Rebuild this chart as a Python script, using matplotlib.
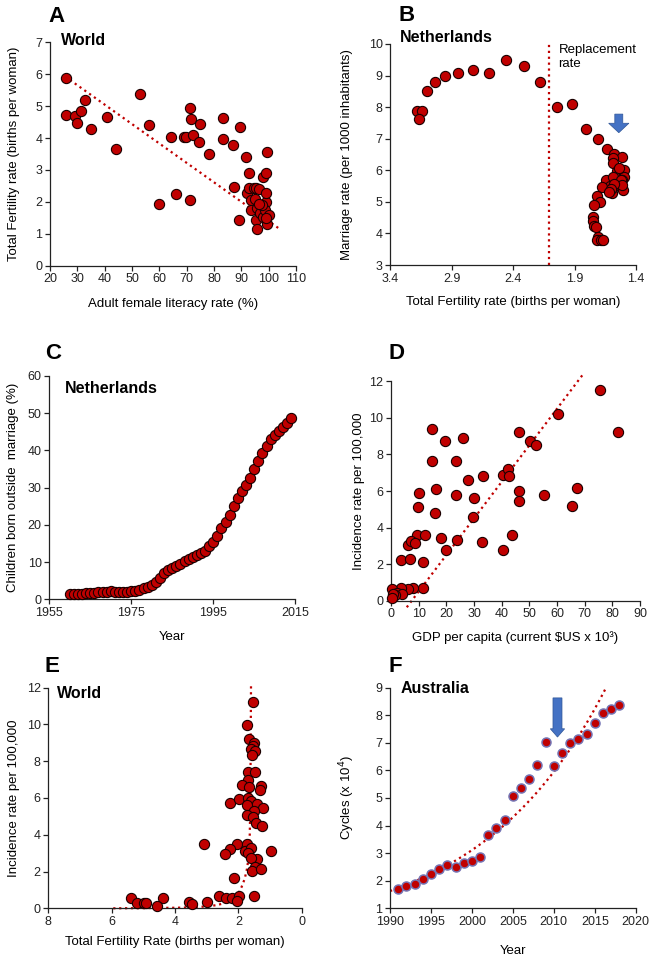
import numpy as np
import matplotlib
matplotlib.use("Agg")
import matplotlib.pyplot as plt
from matplotlib.patches import FancyArrow

plt.rcParams['font.family'] = ['Liberation Sans', 'DejaVu Sans']

RED = '#C00000'
BLUE = '#4472C4'

# A: world, literacy vs fertility
lit_a = [25.9, 25.9, 29.1, 30.0, 31.2, 32.8, 34.9, 40.7, 44.1, 52.9, 56.2, 59.9, 64.4, 66.0,
         68.9, 69.8, 71.1, 71.5, 71.3, 72.4, 74.6, 74.9, 78.3, 83.3, 83.4, 86.8, 87.3, 89.5,
         89.3, 91.7, 92.7, 92.0, 92.9, 93.7, 93.4, 94.6, 95.4, 95.1, 95.6, 95.4, 95.9, 96.3,
         96.8, 98.0, 98.0, 98.9, 98.9, 99.1, 98.8, 99.3, 99.5, 100.0, 98.9, 97.4, 96.6]
tfr_a = [5.88, 4.72, 4.70, 4.47, 4.85, 5.19, 4.27, 4.65, 3.67, 5.38, 4.41, 1.94, 4.02, 2.24,
         4.04, 4.04, 4.95, 4.59, 2.05, 4.10, 3.88, 4.44, 3.50, 4.64, 3.98, 3.79, 2.48, 4.34,
         1.43, 3.41, 2.90, 2.27, 2.42, 2.06, 1.75, 2.44, 2.42, 2.09, 1.80, 1.43, 1.15, 2.40,
         1.64, 1.54, 2.79, 2.92, 2.01, 2.28, 1.75, 1.32, 3.57, 1.59, 1.48, 1.90, 1.93]
trend_a_x = [27.3, 104.2]
trend_a_y = [5.82, 1.14]

# B: Netherlands, fertility vs marriage rate
tfr_b = [3.18, 3.14, 3.17, 3.10, 3.04, 2.955, 2.85, 2.73, 2.60, 2.46, 2.31, 2.18, 2.04, 1.92,
         1.807, 1.712, 1.638, 1.576, 1.516, 1.585, 1.585, 1.50, 1.557, 1.57, 1.495, 1.516,
         1.644, 1.59, 1.525, 1.508, 1.612, 1.674, 1.596, 1.585, 1.72, 1.693, 1.742, 1.753,
         1.747, 1.742, 1.726, 1.709, 1.715, 1.688, 1.666, 1.54, 1.525, 1.51, 1.58, 1.60, 1.62]
mar_b = [7.87, 7.87, 7.64, 8.50, 8.80, 8.98, 9.08, 9.18, 9.08, 9.48, 9.29, 8.80, 7.99, 8.09,
         7.30, 6.98, 6.68, 6.51, 6.41, 6.40, 6.22, 6.01, 5.99, 5.80, 5.78, 5.69,
         5.69, 5.78, 5.50, 5.38, 5.50, 5.48, 5.29, 5.46, 5.19, 5.00, 4.89, 4.51,
         4.40, 4.24, 4.19, 3.90, 3.79, 3.79, 3.79, 6.06, 5.69, 5.53, 5.57, 5.41, 5.30]
replacement_tfr = 2.11

# C: Netherlands, children born outside marriage
years_c = list(range(1960, 2015))
outside_c = [1.3, 1.3, 1.4, 1.5, 1.6, 1.7, 1.8, 1.9, 2.0, 2.0, 2.1, 2.0, 2.0, 1.9, 1.9,
             2.1, 2.3, 2.6, 3.0, 3.3, 3.8, 4.7, 5.8, 7.0, 7.9, 8.3, 8.9, 9.4, 10.3, 10.8,
             11.4, 12.0, 12.4, 13.0, 14.2, 15.5, 17.0, 19.1, 20.8, 22.7, 25.0, 27.2, 29.0,
             30.7, 32.5, 34.9, 37.1, 39.4, 41.2, 43.2, 44.1, 45.2, 46.4, 47.3, 48.7]

# D: GDP per capita vs incidence
gdp_d = [75.5, 82.0, 60.2, 46.4, 50.1, 52.3, 14.9, 19.4, 26.0, 14.9, 23.5, 28.0, 33.4, 40.4,
         42.2, 42.6, 10.1, 16.3, 23.5, 29.9, 46.4, 46.4, 55.2, 67.1, 65.4, 9.9, 15.8, 29.8,
         9.3, 12.3, 6.0, 7.2, 8.7, 18.0, 23.7, 33.0, 43.7, 19.8, 40.4, 3.7, 6.9, 11.7,
         11.4, 8.0, 6.0, 3.7, 0.2, 2.0, 3.9, 1.4, 0.8, 0.5]
inc_d = [11.53, 9.25, 10.21, 9.23, 8.75, 8.50, 9.39, 8.72, 8.90, 7.62, 7.62, 6.62, 6.84, 6.88,
         7.19, 6.80, 5.89, 6.11, 5.80, 5.60, 6.00, 5.47, 5.76, 6.15, 5.20, 5.11, 4.80, 4.60,
         3.61, 3.61, 3.03, 3.28, 3.17, 3.41, 3.30, 3.21, 3.61, 2.79, 2.77, 2.21, 2.30, 2.10,
         0.71, 0.71, 0.62, 0.71, 0.62, 0.40, 0.36, 0.29, 0.36, 0.13]
trend_d_x = [5.7, 69.8]
trend_d_y = [-0.36, 12.46]

# E: world, fertility vs incidence
tfr_e = [1.55, 1.72, 1.66, 1.51, 1.55, 1.61, 1.46, 1.58, 1.68, 1.46, 1.68, 1.88, 1.65, 1.28,
         1.32, 2.26, 1.97, 1.71, 1.61, 1.74, 1.42, 1.21, 1.51, 1.72, 1.53, 1.45, 1.25, 3.07,
         2.05, 1.74, 2.26, 2.43, 1.79, 1.61, 1.68, 0.98, 1.42, 1.61, 1.46, 1.58, 1.28, 2.13,
         2.60, 2.39, 2.21, 1.99, 2.03, 1.51, 3.00, 3.55, 3.47, 4.39, 4.58, 5.40, 5.19, 4.97, 4.90]
inc_e = [11.24, 9.97, 9.19, 9.01, 8.83, 8.65, 8.57, 8.34, 7.40, 7.40, 6.98, 6.71, 6.62, 6.67,
         6.43, 5.71, 5.96, 6.02, 5.85, 5.60, 5.67, 5.47, 5.27, 5.08, 4.98, 4.66, 4.48, 3.50,
         3.50, 3.50, 3.23, 2.97, 3.12, 3.26, 3.03, 3.12, 2.66, 2.72, 2.27, 2.03, 2.14, 1.67,
         0.67, 0.58, 0.54, 0.67, 0.40, 0.67, 0.36, 0.34, 0.22, 0.54, 0.15, 0.54, 0.27, 0.27, 0.27]
trend_e_x = [5.95, 5.0, 4.0, 3.5, 3.0, 2.7, 2.5, 2.3, 2.15, 2.0, 1.9, 1.8, 1.72, 1.67, 1.64,
             1.62, 1.61, 1.60]
trend_e_y = [0.0, 0.01, 0.03, 0.05, 0.1, 0.17, 0.25, 0.38, 0.5, 0.8, 1.15, 1.6, 2.2, 2.9, 4.0,
             6.0, 9.0, 12.2]

# F: Australia, cycles
years_f = list(range(1991, 2019))
cycles_f = [1.69, 1.81, 1.89, 2.08, 2.23, 2.41, 2.58, 2.51, 2.66, 2.70, 2.87, 3.65, 3.92, 4.19,
            5.07, 5.35, 5.68, 6.18, 7.03, 6.16, 6.62, 6.99, 7.13, 7.32, 7.73, 8.09, 8.21, 8.38]


def style(ax):
    for s in ['top', 'right']:
        ax.spines[s].set_visible(False)
    for s in ['left', 'bottom']:
        ax.spines[s].set_linewidth(0.9)
        ax.spines[s].set_color('#222222')
    ax.tick_params(labelsize=9, length=3.5, width=0.9, colors='#222222', pad=2)


def dots(ax, x, y, **kw):
    opts = dict(s=54, c=RED, edgecolors='#1a0000', linewidths=0.8, zorder=3, clip_on=False)
    opts.update(kw)
    ax.scatter(x, y, **opts)


fig = plt.figure(figsize=(6.49, 9.59), dpi=100)

# ---- A
ax = fig.add_axes([50/649, 1-265.7/959, 246/649, 223.4/959])
style(ax)
ax.plot(trend_a_x, trend_a_y, ':', color=RED, lw=1.6, zorder=1)
dots(ax, lit_a, tfr_a)
ax.set_xlim(20, 110)
ax.set_ylim(0, 7)
ax.set_xticks(range(20, 111, 10))
ax.set_xlabel('Adult female literacy rate (%)', fontsize=9.5, labelpad=9)
ax.set_ylabel('Total Fertility rate (births per woman)', fontsize=9.5, labelpad=11)
ax.text(0.045, 0.988, 'World', transform=ax.transAxes, fontsize=11.5, fontweight='bold', va='baseline')

# ---- B
ax = fig.add_axes([390.3/649, 1-265/959, 245.7/649, 221/959])
style(ax)
ax.plot([replacement_tfr, replacement_tfr], [3, 10], ':', color=RED, lw=1.6, zorder=1)
dots(ax, tfr_b, mar_b)
ax.set_xlim(3.4, 1.4)
ax.set_ylim(3, 10)
ax.set_xticks([3.4, 2.9, 2.4, 1.9, 1.4])
ax.set_xticklabels(['3.4', '2.9', '2.4', '1.9', '1.4'])
ax.set_xlabel('Total Fertility rate (births per woman)', fontsize=9.5, labelpad=8)
ax.set_ylabel('Marriage rate (per 1000 inhabitants)', fontsize=9.5, labelpad=11)
ax.text(0.039, 1.009, 'Netherlands', transform=ax.transAxes, fontsize=11.5, fontweight='bold', va='baseline')
ax.text(2.03, 9.72, 'Replacement', fontsize=9.5, va='baseline', ha='left')
ax.text(2.03, 9.28, 'rate', fontsize=9.5, va='baseline', ha='left')
ax.add_patch(FancyArrow(1.54, 7.78, 0, -0.59, width=0.065, head_width=0.165, head_length=0.3,
                        length_includes_head=True, color=BLUE, ec='#2f5597', lw=0.5, zorder=4))

# ---- C
ax = fig.add_axes([49.3/649, 1-599.3/959, 246/649, 223.3/959])
style(ax)
dots(ax, years_c, outside_c)
ax.set_xlim(1955, 2015)
ax.set_ylim(0, 60)
ax.set_xticks([1955, 1975, 1995, 2015])
ax.set_xlabel('Year', fontsize=9.5, labelpad=9)
ax.set_ylabel('Children born outside  marriage (%)', fontsize=9.5, labelpad=6)
ax.text(0.064, 0.925, 'Netherlands', transform=ax.transAxes, fontsize=11.5, fontweight='bold', va='baseline')

# ---- D
ax = fig.add_axes([391/649, 1-600.7/959, 249/649, 219.4/959])
style(ax)
ax.plot(trend_d_x, trend_d_y, ':', color=RED, lw=1.6, zorder=1, clip_on=False)
dots(ax, gdp_d, inc_d)
ax.set_xlim(0, 90)
ax.set_ylim(0, 12)
ax.set_xticks(range(0, 91, 10))
ax.set_xlabel('GDP per capita (current $US x 10³)', fontsize=9.5, labelpad=8)
ax.set_ylabel('Incidence rate per 100,000', fontsize=9.5, labelpad=3)

# ---- E
ax = fig.add_axes([48.3/649, 1-908.3/959, 253.4/649, 220.6/959])
style(ax)
ax.plot(trend_e_x, trend_e_y, ':', color=RED, lw=1.6, zorder=1, clip_on=False)
dots(ax, tfr_e, inc_e)
ax.set_xlim(8, 0)
ax.set_ylim(0, 12)
ax.set_xticks([8, 6, 4, 2, 0])
ax.set_yticks(range(0, 13, 2))
ax.set_xlabel('Total Fertility Rate (births per woman)', fontsize=9.5, labelpad=6)
ax.set_ylabel('Incidence rate per 100,000', fontsize=9.5, labelpad=5)
ax.text(0.036, 0.952, 'World', transform=ax.transAxes, fontsize=11.5, fontweight='bold', va='baseline')

# ---- F
ax = fig.add_axes([390/649, 1-908.3/959, 245.7/649, 220.6/959])
style(ax)
k, b = np.polyfit(years_f, np.log(cycles_f), 1)
tf = np.linspace(1990, 2018, 200)
ax.plot(tf, np.exp(k*tf + b), ':', color=RED, lw=1.6, zorder=1)
dots(ax, years_f, cycles_f, s=42, edgecolors='#7474b4', linewidths=1.1)
ax.set_xlim(1990, 2020)
ax.set_ylim(1, 9)
ax.set_xticks(range(1990, 2021, 5))
ax.set_xlabel('Year', fontsize=9.5, labelpad=12)
ax.set_ylabel('Cycles (x 10$^4$)', fontsize=9.5, labelpad=13)
ax.text(0.045, 0.975, 'Australia', transform=ax.transAxes, fontsize=11.5, fontweight='bold', va='baseline')
ax.add_patch(FancyArrow(2010.45, 8.63, 0, -1.42, width=1.1, head_width=1.75, head_length=0.3,
                        length_includes_head=True, color=BLUE, ec='#2f5597', lw=0.5, zorder=4))

# panel letters
for lab, px, py in [('A', 48, 22), ('B', 398, 21), ('C', 45, 359), ('D', 388, 359),
                    ('E', 45, 672), ('F', 388, 672)]:
    fig.text(px/649, 1-py/959, lab, fontsize=16, fontweight='bold', va='baseline', ha='left')

fig.savefig('out.png', dpi=100)
